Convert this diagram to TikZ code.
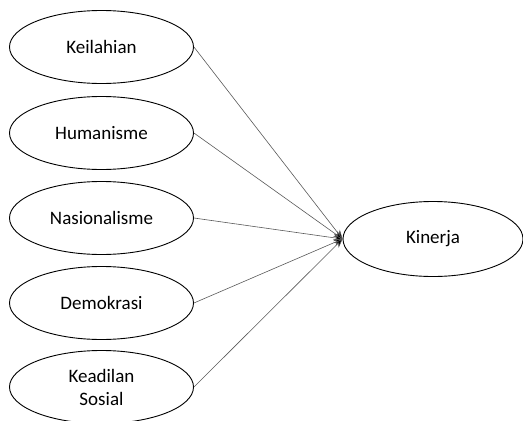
\documentclass[tikz,border=0pt]{standalone}
\usepackage{fontspec}
\setmainfont{Carlito}
\usetikzlibrary{shapes.geometric,arrows.meta}
\begin{document}
\begin{tikzpicture}[x=1pt,y=-1pt,
  var/.style={ellipse,draw=black,line width=0.9pt,minimum width=184pt,minimum height=73pt,inner sep=0pt,align=center,font=\fontsize{19pt}{23pt}\selectfont},
  link/.style={draw=black!65,line width=0.6pt,-{Stealth[length=9pt,width=7pt,fill=black]}}]
\useasboundingbox (0,0) rectangle (523,421);
\node[var] (a) at (101.5,47) {Keilahian};
\node[var] (b) at (101.5,133) {Humanisme};
\node[var] (c) at (101.5,218) {Nasionalisme};
\node[var] (d) at (101.5,303) {Demokrasi};
\node[var] (e) at (101.5,387) {Keadilan\\Sosial};
\node[var,minimum width=180pt,minimum height=75pt] (k) at (433,239) {Kinerja};
\foreach \n in {a,b,c,d,e} \draw[link] (\n.east) -- (k.west);
\end{tikzpicture}
\end{document}
